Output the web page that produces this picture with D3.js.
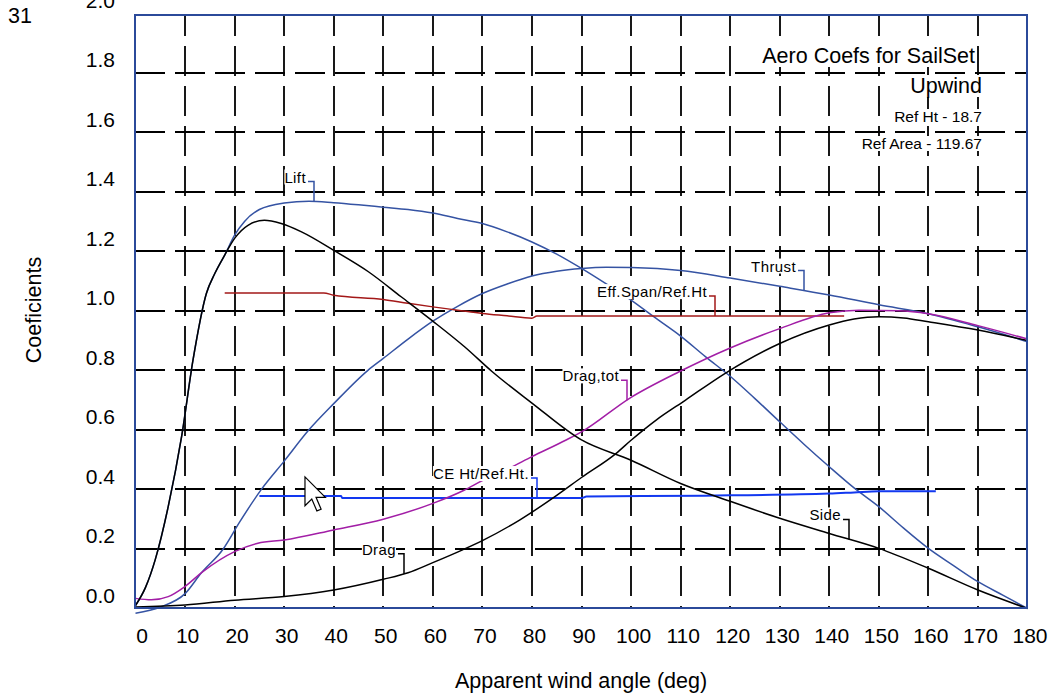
<!DOCTYPE html>
<html><head><meta charset="utf-8">
<script src="https://cdn.jsdelivr.net/npm/d3@7"></script>
<style>
html,body{margin:0;padding:0;background:#fff;}
svg{display:block;}
text{font-family:"Liberation Sans",Arial,sans-serif;fill:#000;}
</style></head><body>
<svg id="chart" width="1048" height="695"></svg>
<script>
// ---- data (angle in degrees, coefficient) ----
const xTickLabels = [0,10,20,30,40,50,60,70,80,90,100,110,120,130,140,150,160,170,180];
const yTickLabels = ["0.0","0.2","0.4","0.6","0.8","1.0","1.2","1.4","1.6","1.8","2.0"];

const lift = [[0,0.01],[2,0.07],[4,0.165],[6.6,0.342],[9.3,0.577],[11.6,0.834],[14.3,1.058],[16,1.125],[18,1.187],[20,1.254],[22,1.30],[25,1.34],[30,1.362],[35,1.368],[40,1.363],[45,1.356],[50,1.348],[55,1.34],[60,1.328],[65,1.31],[70,1.293],[75,1.265],[80,1.231],[85,1.19],[90,1.142],[95,1.09],[100,1.036],[105,0.975],[110,0.915],[115,0.846],[120,0.78],[125,0.705],[130,0.627],[135,0.55],[140,0.476],[145,0.405],[150,0.342],[155,0.27],[160,0.202],[165,0.145],[170,0.09],[175,0.045],[180,0.0]];
const thrust = [[0,-0.016],[5,0.005],[10,0.05],[13.3,0.12],[17.7,0.2],[21,0.29],[25.4,0.4],[30,0.495],[35,0.6],[40,0.688],[46.9,0.8],[50,0.84],[55,0.905],[60,0.965],[65,1.015],[70,1.058],[75,1.09],[80,1.117],[85,1.133],[90,1.142],[95,1.146],[100,1.145],[110,1.135],[120,1.11],[130,1.082],[140,1.053],[150,1.02],[160,0.99],[170,0.946],[180,0.896]];
const effSpan = [[18,1.06],[38,1.06],[40,1.052],[50,1.038],[55,1.025],[60,1.013],[65,1.002],[70,0.991],[75,0.983],[80,0.975],[81,0.982],[143,0.982]];
const ceHt = [[25,0.378],[41.5,0.378],[41.7,0.371],[90,0.371],[91,0.376],[115,0.379],[140,0.386],[145,0.39],[150,0.394],[161.5,0.394]];
const dragTot = [[0,0.034],[3.2,0.029],[6.6,0.04],[9.9,0.073],[13.6,0.124],[20,0.191],[24.7,0.219],[30,0.23],[40,0.264],[50,0.30],[60,0.353],[66.4,0.398],[70,0.43],[75,0.468],[80,0.51],[86.9,0.566],[90,0.593],[99.7,0.706],[109.7,0.795],[120,0.875],[130,0.94],[140,0.993],[146,1.002],[154,1.0],[160,0.99],[170,0.95],[180,0.905]];
const drag = [[0,0.005],[10,0.012],[20,0.028],[30,0.04],[40,0.062],[50,0.098],[55,0.12],[60,0.154],[66,0.197],[70,0.228],[77.5,0.297],[85,0.38],[90,0.44],[97,0.521],[100,0.565],[105,0.632],[111,0.70],[119,0.79],[130,0.89],[140,0.952],[145,0.972],[150,0.98],[155,0.976],[160,0.963],[170,0.935],[180,0.90]];
const side = [[0,0.01],[2,0.07],[4,0.165],[6.6,0.342],[9.3,0.577],[11.6,0.834],[14.3,1.058],[16,1.125],[18,1.187],[20,1.243],[22.7,1.287],[26,1.304],[29.4,1.293],[33.5,1.265],[40,1.203],[47,1.131],[53.6,1.047],[60,0.965],[66.4,0.879],[72,0.795],[80,0.69],[90,0.566],[100,0.498],[110,0.42],[120,0.36],[130,0.303],[140,0.252],[150,0.202],[160,0.135],[170,0.062],[180,0.0]];

const seriesNames = ["Lift","Thrust","Eff.Span/Ref.Ht","CE Ht/Ref.Ht.","Drag,tot","Drag","Side"];
const labelAngles = [36.1,134.9,117,81,99.1,54.2,144];
const legendLines = ["Aero Coefs for SailSet","Upwind","Ref Ht - 18.7","Ref Area - 119.67"];

// ---- layout ----
const svg = d3.select("#chart");
const frame = {left:135, right:1027, top:15, bottom:608};
const x = d3.scaleLinear().domain([0,180]).range([135.5,1027.5]);
const y = d3.scaleLinear().domain([0,2]).range([608.5,13]);

svg.append("rect").attr("width",1048).attr("height",695).attr("fill","#fff");

// grid
const grid = svg.append("g").attr("stroke","#000").attr("stroke-width",1.8).attr("fill","none");
grid.selectAll("line.v").data(xTickLabels.filter(d=>d>0 && d<180)).join("line")
  .attr("x1",d=>Math.round(x(d))).attr("x2",d=>Math.round(x(d)))
  .attr("y1",frame.top).attr("y2",frame.bottom)
  .attr("stroke-dasharray","30,10").attr("stroke-dashoffset",9);
grid.selectAll("line.h").data(yTickLabels.map(Number).filter(v=>v>0 && v<2)).join("line")
  .attr("y1",d=>Math.round(y(d))).attr("y2",d=>Math.round(y(d)))
  .attr("x1",frame.left).attr("x2",frame.right)
  .attr("stroke-dasharray","30,10").attr("stroke-dashoffset",0);

// curves
const line = d3.line().x(d=>x(d[0])).y(d=>y(d[1])).curve(d3.curveMonotoneX);
const curves = [
  {data:thrust, color:"#3553a3"},
  {data:lift, color:"#3553a3"},
  {data:effSpan, color:"#a31818"},
  {data:ceHt, color:"#1238f0"},
  {data:drag, color:"#000"},
  {data:dragTot, color:"#a21ea6"},
  {data:side, color:"#000"}
];
svg.append("g").selectAll("path").data(curves).join("path")
  .attr("d",d=>line(d.data)).attr("fill","none")
  .attr("stroke",d=>d.color).attr("stroke-width",d=>d.data===ceHt?2:1.5);

// frame
svg.append("rect").attr("x",frame.left).attr("y",frame.top)
  .attr("width",frame.right-frame.left).attr("height",frame.bottom-frame.top)
  .attr("fill","none").attr("stroke","#2b4a9a").attr("stroke-width",2);

// axes
const xAxis = svg.append("g").attr("transform",`translate(0,${y(0)})`)
  .call(d3.axisBottom(x).tickValues(xTickLabels).tickSize(0).tickFormat(d=>String(d)));
xAxis.select(".domain").remove();
xAxis.selectAll("text").attr("font-size",21).attr("dy",0).attr("y",34.5)
  .attr("font-family","Liberation Sans, Arial, sans-serif").attr("fill","#111")
  .attr("x",function(d){ return d===0 ? 6 : 2; });

const yAxis = svg.append("g")
  .call(d3.axisLeft(y).tickValues(yTickLabels.map(Number)).tickSize(0).tickFormat(d=>d.toFixed(1)));
yAxis.select(".domain").remove();
yAxis.selectAll("text").attr("font-size",21).attr("dy",0).attr("y",-6).attr("x",115)
  .attr("text-anchor","end").attr("font-family","Liberation Sans, Arial, sans-serif").attr("fill","#111");

// axis titles
svg.append("text").attr("x",581).attr("y",688).attr("text-anchor","middle")
  .attr("font-size",21.5).attr("fill","#111").text("Apparent wind angle (deg)");
svg.append("text").attr("transform","translate(41,310) rotate(-90)").attr("text-anchor","middle")
  .attr("font-size",21.5).attr("fill","#111").text("Coeficients");
svg.append("text").attr("x",8).attr("y",23).attr("font-size",21.5).attr("fill","#111").text("31");

// helper: text with tight white background
function bgText(g, tx, ty, str, size, anchor, extra){
  const t = g.append("text").attr("x",tx).attr("y",ty).attr("font-size",size)
    .attr("text-anchor",anchor).text(str);
  if (extra) t.attr("letter-spacing",extra);
  const b = t.node().getBBox();
  g.insert("rect", function(){ return t.node(); })
    .attr("x",b.x).attr("y",b.y+1).attr("width",b.width).attr("height",b.height-2).attr("fill","#fff");
  return t;
}

// curve labels with leaders
function interp(data, a){
  for (let i=1;i<data.length;i++){
    if (a<=data[i][0]){
      const [a0,v0]=data[i-1],[a1,v1]=data[i];
      return v0+(v1-v0)*(a-a0)/(a1-a0);
    }
  }
  return data[data.length-1][1];
}
const labelSeries = [lift,thrust,effSpan,ceHt,dragTot,drag,side];
const labelColors = ["#3553a3","#3553a3","#a31818","#1238f0","#a21ea6","#000","#000"];
const labG = svg.append("g");
seriesNames.forEach((name,i)=>{
  const a = labelAngles[i];
  const ax = Math.round(x(a)), ay = y(interp(labelSeries[i], a));
  const top = ay - 20;
  const g = labG.append("g");
  bgText(g, ax-8, top+1, name, 15, "end", 0.4);
  g.append("path").attr("d",`M${ax-6},${top} H${ax} V${ay}`)
    .attr("fill","none").attr("stroke",labelColors[i]).attr("stroke-width",1.5);
});

// legend block
const leg = svg.append("g");
bgText(leg, 975, 63, legendLines[0], 21.5, "end");
bgText(leg, 982, 93, legendLines[1], 21.5, "end");
bgText(leg, 982, 122, legendLines[2], 15.5, "end");
bgText(leg, 982, 149, legendLines[3], 15.5, "end");

// mouse cursor
svg.append("path")
  .attr("transform",`translate(${x(34.2)},${y(0.442)}) scale(1.7)`)
  .attr("d","M0 0 L0 17 L4 13 L7 20 L9.5 19 L6.5 12 L12 12 Z")
  .attr("fill","#fff").attr("stroke","#000").attr("stroke-width",0.7);
</script>
</body></html>
